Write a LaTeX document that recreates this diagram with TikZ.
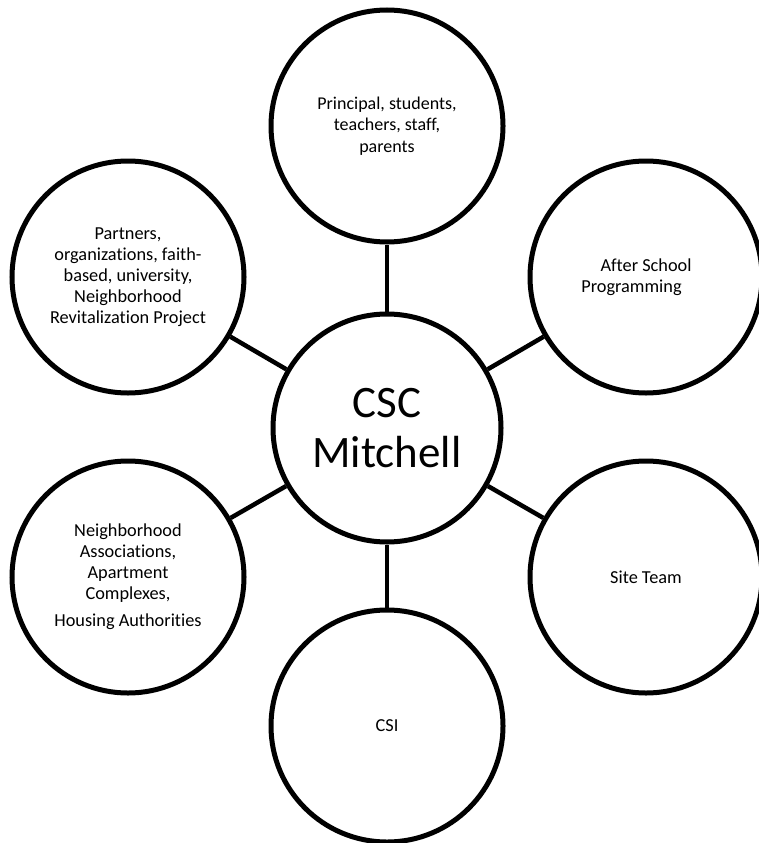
\documentclass[tikz,border=0pt]{standalone}
\usepackage{fontspec}
\setmainfont{Carlito}[Ligatures=NoCommon]
\begin{document}
\begin{tikzpicture}[x=1pt,y=-1pt,
  bub/.style={circle,draw=black,line width=5pt,minimum size=232pt,inner sep=0pt,
    align=center,font=\fontsize{18.3}{21}\selectfont},
  link/.style={line width=4.5pt}]
\useasboundingbox (0,0) rectangle (759,843);
\fill[white] (0,0) rectangle (759,843);
\node[bub, minimum size=228pt, font=\fontsize{45}{50}\selectfont] (hub) at (387,428) {CSC\\Mitchell};
\node[bub, font=\fontsize{18}{21.5}\selectfont] (top) at (387,126) {Principal, students,\\teachers, staff,\\parents};
\node[bub] (ul) at (128,277) {Partners,\\organizations, faith-\\based, university,\\Neighborhood\\Revitalization Project};
\node[bub] (ur) at (646,277) {After School\\Programming\hspace*{29pt}};
\node[bub] (ll) at (128,577) {Neighborhood\\Associations,\\Apartment\\Complexes,\\[6pt]Housing Authorities};
\node[bub] (lr) at (646,577) {Site Team};
\node[bub] (bot) at (387,726) {CSI};
\draw[link] (hub) -- (top);
\draw[link] (hub) -- (ul);
\draw[link] (hub) -- (ur);
\draw[link] (hub) -- (ll);
\draw[link] (hub) -- (lr);
\draw[link] (hub) -- (bot);
\end{tikzpicture}
\end{document}
